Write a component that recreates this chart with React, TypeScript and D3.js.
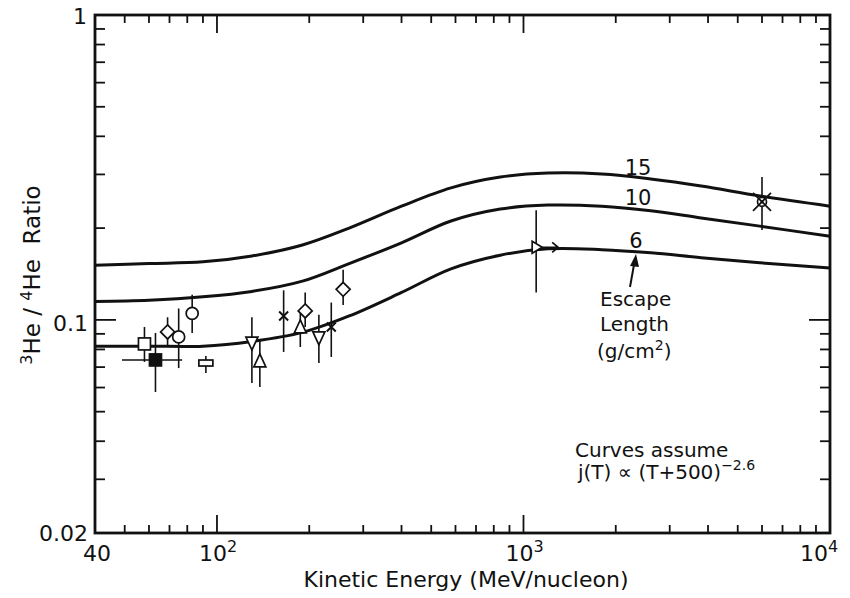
import * as d3 from "d3";

// escape-length curves (kinetic energy in MeV/nucleon, 3He/4He ratio)
const curveT = [40, 60, 90, 130, 190, 270, 400, 580, 840, 1200, 1800, 2600, 3800, 5900, 10000];
const ratio15 = [0.151, 0.153, 0.155, 0.162, 0.176, 0.2, 0.236, 0.271, 0.294, 0.303, 0.301, 0.29, 0.275, 0.255, 0.236];
const ratio10 = [0.115, 0.116, 0.119, 0.124, 0.134, 0.153, 0.179, 0.211, 0.231, 0.238, 0.236, 0.228, 0.216, 0.203, 0.188];
const ratio6 = [0.082, 0.082, 0.082, 0.085, 0.091, 0.103, 0.123, 0.147, 0.163, 0.171, 0.17, 0.166, 0.16, 0.154, 0.148];
const curveLabels = ["15", "10", "6"];

// measurements
const pointSymbol = ["square", "filledSquare", "diamond", "circle", "circle", "flatRect", "triDown", "triUp",
  "cross", "triUp", "diamond", "triDown", "cross", "diamond", "triRight", "crossCircle"];
const pointT = [58, 63, 69, 75, 83, 92, 130, 138, 165, 187, 194, 215, 236, 258, 1100, 6000];
const pointRatio = [0.0834, 0.0739, 0.0913, 0.0879, 0.105, 0.0722, 0.0846, 0.0728, 0.103, 0.0941, 0.107, 0.0879, 0.0948, 0.126, 0.173, 0.244];
const pointLo = [0.0728, 0.058, 0.0827, 0.0695, 0.0906, 0.067, 0.0621, 0.0602, 0.0785, 0.0815, 0.0948, 0.0722, 0.0756, 0.112, 0.123, 0.197];
const pointHi = [0.0948, 0.0906, 0.102, 0.109, 0.121, 0.0761, 0.102, 0.0859, 0.125, 0.105, 0.123, 0.104, 0.114, 0.146, 0.229, 0.294];
const pointTLo = [null, 49, null, null, null, null, null, null, null, null, null, null, null, null, null, null];
const pointTHi = [null, 77, null, null, null, null, null, null, null, null, null, null, null, null, null, null];

// axes
const xMajor = [100, 1000];
const xMinor = [50, 60, 70, 80, 90, 200, 300, 400, 500, 600, 700, 800, 900, 2000, 3000, 4000, 5000, 6000, 7000, 8000, 9000];
const yMajor = [0.1];
const yMinor = [0.03, 0.04, 0.05, 0.06, 0.07, 0.08, 0.09, 0.2, 0.3, 0.4, 0.5, 0.6, 0.7, 0.8, 0.9];
const xPowLabels = [{ v: 100, e: "2" }, { v: 1000, e: "3" }, { v: 10000, e: "4" }];

const font = "'DejaVu Sans', sans-serif";

const Symbol = ({ kind, cx, cy }: { kind: string; cx: number; cy: number }) => {
  const s = { stroke: "#111", strokeWidth: 1.7, fill: "#fff" };
  switch (kind) {
    case "square":
      return <rect x={cx - 6} y={cy - 6} width={12} height={12} {...s} />;
    case "filledSquare":
      return <rect x={cx - 6} y={cy - 6} width={12} height={12} {...s} fill="#111" />;
    case "diamond":
      return <path d={`M${cx},${cy - 7}L${cx + 7},${cy}L${cx},${cy + 7}L${cx - 7},${cy}Z`} {...s} />;
    case "circle":
      return <circle cx={cx} cy={cy} r={6} {...s} />;
    case "flatRect":
      return <rect x={cx - 7} y={cy - 3} width={14} height={6} {...s} />;
    case "triUp":
      return <path d={`M${cx},${cy - 8}L${cx + 6},${cy + 5}L${cx - 6},${cy + 5}Z`} {...s} />;
    case "triDown":
      return <path d={`M${cx},${cy + 8}L${cx + 6},${cy - 5}L${cx - 6},${cy - 5}Z`} {...s} />;
    case "cross":
      return <path d={`M${cx - 4.5},${cy - 4.5}L${cx + 4.5},${cy + 4.5}M${cx + 4.5},${cy - 4.5}L${cx - 4.5},${cy + 4.5}`} {...s} strokeWidth={2} />;
    case "triRight":
      return (
        <g>
          <path d={`M${cx - 4},${cy - 6}L${cx + 6},${cy}L${cx - 4},${cy + 6}Z`} {...s} />
          <path d={`M${cx + 6},${cy}L${cx + 22},${cy}M${cx + 16},${cy - 5}L${cx + 22},${cy}L${cx + 16},${cy + 5}`} {...s} fill="none" />
        </g>
      );
    case "crossCircle":
      return (
        <g>
          <circle cx={cx} cy={cy} r={4.5} {...s} />
          <circle cx={cx} cy={cy} r={1.6} fill="#111" />
          <path d={`M${cx - 9},${cy - 9}L${cx + 9},${cy + 9}M${cx + 9},${cy - 9}L${cx - 9},${cy + 9}`} {...s} />
        </g>
      );
    default:
      return null;
  }
};

export default function App() {
  const left = 95, right = 830, top = 15, bottom = 533;
  const x = d3.scaleLog().domain([40, 10000]).range([left, right]);
  const y = d3.scaleLog().domain([0.02, 1]).range([bottom, top]);

  const line = d3.line<[number, number]>()
    .x(d => x(d[0]))
    .y(d => y(d[1]))
    .curve(d3.curveCatmullRom.alpha(0.5));

  const curves = [ratio15, ratio10, ratio6].map(r => curveT.map((t, i) => [t, r[i]] as [number, number]));

  const minorLen = 8, majorLen = 18;
  // label "10" sits left of its tick; the last one must stay inside the page
  const powOffset = [-18, -18, -30];

  return (
    <svg width={850} height={598} style={{ position: "absolute", left: 0, top: 0, background: "#fff" }} fontFamily={font}>
      <rect width={850} height={598} fill="#fff" />

      {/* curves */}
      {curves.map((c, i) => (
        <path key={i} d={line(c) || ""} fill="none" stroke="#111" strokeWidth={3} />
      ))}

      {/* ticks */}
      <g stroke="#111" strokeWidth={1.8}>
        {xMinor.map(v => (
          <g key={"xm" + v}>
            <line x1={x(v)} x2={x(v)} y1={bottom} y2={bottom - minorLen} />
            <line x1={x(v)} x2={x(v)} y1={top} y2={top + minorLen} />
          </g>
        ))}
        {xMajor.map(v => (
          <g key={"xM" + v}>
            <line x1={x(v)} x2={x(v)} y1={bottom} y2={bottom - majorLen} />
            <line x1={x(v)} x2={x(v)} y1={top} y2={top + majorLen} />
          </g>
        ))}
        {yMinor.map(v => (
          <g key={"ym" + v}>
            <line x1={left} x2={left + minorLen + 2} y1={y(v)} y2={y(v)} />
            <line x1={right} x2={right - minorLen - 2} y1={y(v)} y2={y(v)} />
          </g>
        ))}
        {yMajor.map(v => (
          <g key={"yM" + v}>
            <line x1={left} x2={left + majorLen + 3} y1={y(v)} y2={y(v)} />
            <line x1={right} x2={right - majorLen - 3} y1={y(v)} y2={y(v)} />
          </g>
        ))}
      </g>

      {/* frame */}
      <rect x={left} y={top} width={right - left} height={bottom - top} fill="none" stroke="#111" strokeWidth={2.8} />

      {/* error bars */}
      <g stroke="#111" strokeWidth={1.6}>
        {pointT.map((t, i) => (
          <g key={"e" + i}>
            <line x1={x(t)} x2={x(t)} y1={y(pointLo[i])} y2={y(pointHi[i])} />
            {pointTLo[i] != null && (
              <line x1={x(pointTLo[i] as number)} x2={x(pointTHi[i] as number)} y1={y(pointRatio[i])} y2={y(pointRatio[i])} />
            )}
          </g>
        ))}
      </g>

      {/* symbols */}
      {pointT.map((t, i) => (
        <Symbol key={"s" + i} kind={pointSymbol[i]} cx={x(t)} cy={y(pointRatio[i])} />
      ))}

      {/* curve labels */}
      <g fontSize={21} fill="#111" textAnchor="middle">
        <text x={638} y={175}>{curveLabels[0]}</text>
        <text x={638} y={205}>{curveLabels[1]}</text>
        <text x={636} y={248}>{curveLabels[2]}</text>
      </g>

      {/* escape length annotation */}
      <line x1={630} y1={287} x2={634.5} y2={262} stroke="#111" strokeWidth={2} />
      <path d="M636,254 L630,266 L639,267 Z" fill="#111" />
      <g fontSize={20} fill="#111">
        <text x={600} y={306}>Escape</text>
        <text x={600} y={331}>Length</text>
        <text x={597} y={358}>(g/cm<tspan dy={-8} fontSize={14}>2</tspan><tspan dy={8}>)</tspan></text>
        <text x={575} y={457}>Curves assume</text>
        <text x={578} y={479}>j(T) ∝ (T+500)<tspan dy={-9} fontSize={14}>−2.6</tspan></text>
      </g>

      {/* tick labels */}
      <g fontSize={22} fill="#111">
        <text x={87} y={24} textAnchor="end">1</text>
        <text x={88} y={331} textAnchor="end">0.1</text>
        <text x={88} y={541} textAnchor="end">0.02</text>
        <text x={x(40) + 2} y={561} textAnchor="middle">40</text>
        {xPowLabels.map((d, i) => (
          <text key={d.v} x={x(d.v) + powOffset[i]} y={561}>10<tspan dy={-9} fontSize={16}>{d.e}</tspan></text>
        ))}
      </g>

      {/* axis titles */}
      <text x={466} y={587} fontSize={22} textAnchor="middle" fill="#111">Kinetic Energy (MeV/nucleon)</text>
      <text transform="translate(40,275) rotate(-90)" fontSize={23} textAnchor="middle" fill="#111" xmlSpace="preserve">
        <tspan dy={-8} fontSize={16}>3</tspan><tspan dy={8}>He / </tspan><tspan dy={-8} fontSize={16}>4</tspan><tspan dy={8}>He  Ratio</tspan>
      </text>
    </svg>
  );
}
